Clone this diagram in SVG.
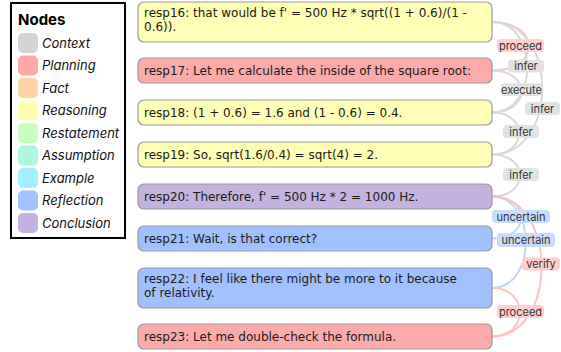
<svg xmlns="http://www.w3.org/2000/svg" width="561" height="352" viewBox="0 0 561 352">
<defs>
<style>
.leg{font-family:Inter,"Liberation Sans",sans-serif;font-size:13px;font-style:italic;fill:#111}
.title{font-family:Inter,"Liberation Sans",sans-serif;font-size:15px;font-weight:bold;fill:#000}
.sw{stroke:none}
.node rect{stroke:#9a9a9a;stroke-width:1.2}
.nt{font-family:"DejaVu Sans",sans-serif;font-size:12px;fill:#1a1a1a}
.e{fill:none;stroke-width:2}
.pink{stroke:#ffc2c2}
.gray{stroke:#d9d9d9}
.blue{stroke:#c0d4f7}
.lbl{font-family:Inter,"Liberation Sans",sans-serif;font-size:11px;fill:#333;text-anchor:middle}
.lp{fill:#ffcfcf}
.lg{fill:#e2e2e2}
.lb{fill:#cadcfb}
</style>
</defs>
<rect width="561" height="352" fill="#fff"/>
<g id="legend">
<rect x="11" y="3" width="114" height="235" fill="#fff" stroke="#000" stroke-width="2"/>
<text class="title" x="18" y="25">Nodes</text>
<rect class="sw" x="18" y="33" width="20" height="20" rx="5" fill="#d3d3d3"/><text class="leg" x="42" y="47.5">Context</text>
<rect class="sw" x="18" y="55.5" width="20" height="20" rx="5" fill="#ffa8a8"/><text class="leg" x="42" y="70">Planning</text>
<rect class="sw" x="18" y="78" width="20" height="20" rx="5" fill="#ffd2a3"/><text class="leg" x="42" y="92.5">Fact</text>
<rect class="sw" x="18" y="100.5" width="20" height="20" rx="5" fill="#ffffb0"/><text class="leg" x="42" y="115">Reasoning</text>
<rect class="sw" x="18" y="123" width="20" height="20" rx="5" fill="#c8ffc0"/><text class="leg" x="42" y="137.5">Restatement</text>
<rect class="sw" x="18" y="145.5" width="20" height="20" rx="5" fill="#adf5de"/><text class="leg" x="42" y="160">Assumption</text>
<rect class="sw" x="18" y="168" width="20" height="20" rx="5" fill="#a0f0ff"/><text class="leg" x="42" y="182.5">Example</text>
<rect class="sw" x="18" y="190.5" width="20" height="20" rx="5" fill="#a3c2ff"/><text class="leg" x="42" y="205">Reflection</text>
<rect class="sw" x="18" y="213" width="20" height="20" rx="5" fill="#c3b3e0"/><text class="leg" x="42" y="227.5">Conclusion</text>
</g>
<g id="connectors">
<path class="e pink" d="M492,22 C541,22 541,70.5 492,70.5"/>
<path class="e gray" d="M492,22 C539,22 539,112.5 492,112.5"/>
<path class="e gray" d="M492,22 C559,22 559,154.5 492,154.5"/>
<path class="e gray" d="M492,70.5 C531,70.5 531,112.5 492,112.5"/>
<path class="e gray" d="M492,112.5 C528,112.5 528,154.5 492,154.5"/>
<path class="e gray" d="M492,154.5 C529,154.5 529,196.5 492,196.5"/>
<path class="e blue" d="M492,196.5 C531,196.5 531,238.5 492,238.5"/>
<path class="e blue" d="M492,196.5 C537,196.5 537,288 492,288"/>
<path class="e pink" d="M492,196.5 C558,196.5 558,336.5 492,336.5"/>
<path class="e pink" d="M492,288 C529,288 529,336.5 492,336.5"/>
<rect class="lp" x="497" y="39" width="47" height="13" rx="4"/><text class="lbl" x="520.5" y="49.5">proceed</text>
<rect class="lg" x="508" y="59.5" width="36" height="13" rx="4"/><text class="lbl" x="526" y="70">infer</text>
<rect class="lg" x="501" y="83" width="41" height="13" rx="4"/><text class="lbl" x="521.5" y="93.5">execute</text>
<rect class="lg" x="525" y="102" width="35" height="13" rx="4"/><text class="lbl" x="542.5" y="112.5">infer</text>
<rect class="lg" x="503" y="125" width="36" height="13" rx="4"/><text class="lbl" x="521" y="135.5">infer</text>
<rect class="lg" x="503" y="168" width="36" height="13" rx="4"/><text class="lbl" x="521" y="178.5">infer</text>
<rect class="lb" x="492" y="210" width="58" height="13" rx="4"/><text class="lbl" x="521" y="220.5">uncertain</text>
<rect class="lb" x="497" y="233" width="58" height="14" rx="4"/><text class="lbl" x="526" y="244">uncertain</text>
<rect class="lp" x="522" y="257.5" width="38" height="13" rx="4"/><text class="lbl" x="541" y="268">verify</text>
<rect class="lp" x="497" y="305" width="47" height="13" rx="4"/><text class="lbl" x="520.5" y="315.5">proceed</text>
</g>
<g id="resp16" class="node"><rect x="138" y="2" width="354" height="40" rx="6" fill="#ffffb5"/><text class="nt" x="144" y="17">resp16: that would be f' = 500 Hz * sqrt((1 + 0.6)/(1 -</text><text class="nt" x="144" y="31">0.6)).</text></g>
<g id="resp17" class="node"><rect x="138" y="58" width="354" height="25" rx="6" fill="#ffaaaa"/><text class="nt" x="144" y="74.5">resp17: Let me calculate the inside of the square root:</text></g>
<g id="resp18" class="node"><rect x="138" y="100" width="354" height="25" rx="6" fill="#ffffb5"/><text class="nt" x="144" y="116.5">resp18: (1 + 0.6) = 1.6 and (1 - 0.6) = 0.4.</text></g>
<g id="resp19" class="node"><rect x="138" y="142" width="354" height="25" rx="6" fill="#ffffb5"/><text class="nt" x="144" y="158.5">resp19: So, sqrt(1.6/0.4) = sqrt(4) = 2.</text></g>
<g id="resp20" class="node"><rect x="138" y="184" width="354" height="25" rx="6" fill="#c4b3e0"/><text class="nt" x="144" y="200.5">resp20: Therefore, f' = 500 Hz * 2 = 1000 Hz.</text></g>
<g id="resp21" class="node"><rect x="138" y="226" width="354" height="25" rx="6" fill="#a0c0ff"/><text class="nt" x="144" y="242.5">resp21: Wait, is that correct?</text></g>
<g id="resp22" class="node"><rect x="138" y="268" width="354" height="40" rx="6" fill="#a0c0ff"/><text class="nt" x="144" y="283">resp22: I feel like there might be more to it because</text><text class="nt" x="144" y="297">of relativity.</text></g>
<g id="resp23" class="node"><rect x="138" y="324" width="354" height="25" rx="6" fill="#ffaaaa"/><text class="nt" x="144" y="340.5">resp23: Let me double-check the formula.</text></g>
</svg>
